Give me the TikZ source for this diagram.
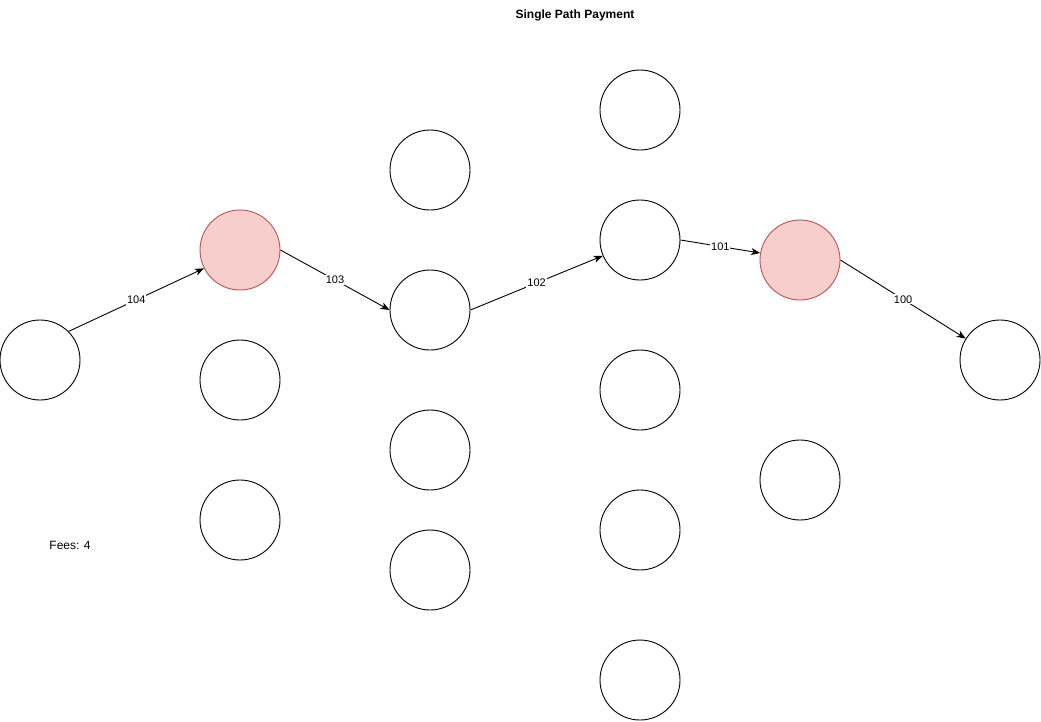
\documentclass[tikz,border=0pt]{standalone}
\usepackage{fontspec}
\setmainfont{Liberation Sans}
\usetikzlibrary{arrows.meta}
\definecolor{redfill}{HTML}{F8CECC}
\definecolor{redline}{HTML}{B85450}
\begin{document}
\begin{tikzpicture}[x=1pt,y=-1pt,
  nd/.style={circle,draw=black,fill=white,line width=0.9pt,minimum size=80pt,inner sep=0pt},
  hot/.style={nd,draw=redline,fill=redfill},
  edge/.style={line width=0.9pt,-{Stealth[length=9pt,width=7pt,inset=2.5pt]}},
  lbl/.style={fill=white,inner sep=1pt,font=\fontsize{11}{12}\selectfont}]
\useasboundingbox (0,0) rectangle (1041,721);
\node[font=\bfseries\fontsize{12}{14}\selectfont] (title) at (575,15) {Single Path Payment};
\node[font=\fontsize{12}{14}\selectfont] (fees) at (70,545) {Fees: 4};
\node[nd] (a) at (40,360) {};
\node[hot] (b) at (240,250) {};
\node[nd] (c) at (240,380) {};
\node[nd] (d) at (240,520) {};
\node[nd] (e) at (430,170) {};
\node[nd] (f) at (430,310) {};
\node[nd] (g) at (430,450) {};
\node[nd] (h) at (430,570) {};
\node[nd] (i) at (640,110) {};
\node[nd] (j) at (640,240) {};
\node[nd] (k) at (640,390) {};
\node[nd] (l) at (640,530) {};
\node[nd] (m) at (640,680) {};
\node[hot] (n) at (800,260) {};
\node[nd] (o) at (800,480) {};
\node[nd] (p) at (1000,360) {};
\draw[edge] (a.45) -- node[lbl] {104} (b.207);
\draw[edge] (b.east) -- node[lbl] {103} (f.west);
\draw[edge] (f.east) -- node[lbl] {102} (j.203);
\draw[edge] (j.east) -- node[lbl] {101} (n.170);
\draw[edge] (n.east) -- node[lbl] {100} (p.148);
\end{tikzpicture}
\end{document}
